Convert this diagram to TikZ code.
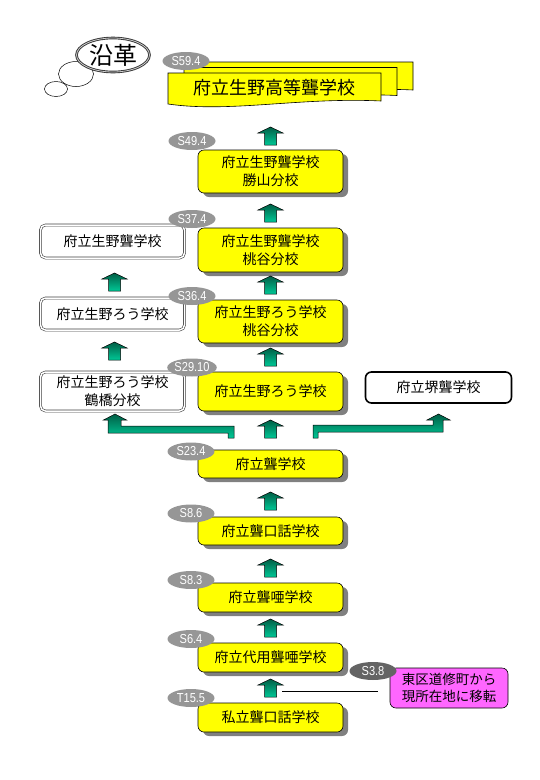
\documentclass[tikz,border=0pt]{standalone}
\usepackage{fontspec}
\setmainfont{Liberation Sans}
\newfontfamily\jpfont{Noto Sans CJK JP}
\newfontfamily\tagfont[FakeStretch=0.85]{Liberation Sans}
\usetikzlibrary{calc,shadows,shapes.geometric}
\definecolor{boxyellow}{RGB}{255,255,0}
\definecolor{taggray}{RGB}{150,150,150}
\definecolor{tagdark}{RGB}{100,100,100}
\definecolor{movepink}{RGB}{255,102,255}
\definecolor{arrtop}{RGB}{0,95,70}
\definecolor{arrbot}{RGB}{0,200,150}
\definecolor{shadowgray}{RGB}{128,128,128}
\tikzset{
  school/.style={draw,rounded corners=6pt,fill=boxyellow,minimum width=145pt,align=center,
    inner sep=2pt,line width=0.6pt,font=\jpfont\fontsize{14}{18}\selectfont,
    drop shadow={shadow xshift=5pt,shadow yshift=-4pt,fill=shadowgray,opacity=1}},
  branch/.style={draw=black!75,double,double distance=1.5pt,line width=0.6pt,rounded corners=5pt,
    fill=white,minimum width=144pt,align=center,inner sep=2pt,font=\jpfont\fontsize{14}{18}\selectfont},
  sakai/.style={draw,line width=1.6pt,rounded corners=6pt,fill=white,minimum width=146pt,
    align=center,inner sep=2pt,font=\jpfont\fontsize{14}{18}\selectfont},
  movebox/.style={draw,line width=0.6pt,rounded corners=6pt,fill=movepink,minimum width=118pt,
    align=center,inner sep=2pt,font=\jpfont\fontsize{13.5}{17}\selectfont},
  datetag/.style={ellipse,fill=taggray,text=white,minimum width=47pt,minimum height=18pt,
    inner sep=0pt,font=\tagfont\fontsize{13}{13}\selectfont},
  sheet/.style={draw,line width=0.6pt,fill=boxyellow},
  arrowfill/.style={draw=black,line width=0.5pt,top color=arrtop,bottom color=arrbot},
  uparr/.pic={\shade[arrowfill] (-6,0) -- (6,0) -- (6,-12) -- (12.5,-12) -- (0,-18)
    -- (-12.5,-12) -- (-6,-12) -- cycle;}
}
\begin{document}
\begin{tikzpicture}[x=1pt,y=-1pt]
  \useasboundingbox (0,0) rectangle (540,780);
  % title bubble
  \draw[fill=white,line width=0.5pt] (56,89) ellipse (11.5 and 7.5);
  \draw[fill=white,line width=0.5pt] (76,74) ellipse (17.5 and 12.5);
  \node[ellipse,draw=black!80,double=gray!40,double distance=0.8pt,line width=0.9pt,fill=white,
    minimum width=73pt,minimum height=34pt,inner sep=0pt,font=\jpfont\fontsize{24}{24}\selectfont]
    (title) at (113,55) {沿革};
  % high school (stacked sheets)
  \foreach \dx/\dy in {32/-11,16/-5.5,0/0}
    \filldraw[sheet,shift={(\dx,\dy)}] (168,73) -- (381,73) -- (381,101)
      .. controls (300,97) and (230,113) .. (168,104) -- cycle;
  \node[font=\jpfont\fontsize{18}{18}\selectfont] (hs) at (274,88) {府立生野高等聾学校};
  % main column
  \node[school,minimum height=43pt] (b49) at (270.5,171.5) {府立生野聾学校\\勝山分校};
  \node[school,minimum height=44pt] (b37) at (270.5,250) {府立生野聾学校\\桃谷分校};
  \node[school,minimum height=43pt] (b36) at (270.5,321.5) {府立生野ろう学校\\桃谷分校};
  \node[school,minimum height=39pt] (b29) at (270.5,391.5) {府立生野ろう学校};
  \node[school,minimum height=28pt] (b23) at (270.5,464) {府立聾学校};
  \node[school,minimum height=28pt] (b86) at (270.5,531) {府立聾口話学校};
  \node[school,minimum height=29pt] (b83) at (270.5,597.5) {府立聾唖学校};
  \node[school,minimum height=29pt] (b64) at (270.5,657.5) {府立代用聾唖学校};
  \node[school,minimum height=29pt] (t155) at (270.5,717.5) {私立聾口話学校};
  % side columns
  \node[branch,minimum height=33pt] (l37) at (112.5,241.5) {府立生野聾学校};
  \node[branch,minimum height=32pt] (l36) at (112.5,314) {府立生野ろう学校};
  \node[branch,minimum height=39pt] (l29) at (112.5,391.5) {府立生野ろう学校\\鶴橋分校};
  \node[sakai,minimum height=31pt] (r29) at (438.5,387.5) {府立堺聾学校};
  \node[movebox,minimum height=40pt] (move) at (449,688) {東区道修町から\\現所在地に移転};
  % dates
  \node[datetag] (d594) at (186,61) {S59.4};
  \node[datetag] (d494) at (192,141) {S49.4};
  \node[datetag] (d374) at (192,219) {S37.4};
  \node[datetag] (d364) at (192,296) {S36.4};
  \node[datetag] (d2910) at (192,367.5) {S29.10};
  \node[datetag] (d234) at (191,451.5) {S23.4};
  \node[datetag] (d86) at (191,513.5) {S8.6};
  \node[datetag] (d83) at (191,580) {S8.3};
  \node[datetag] (d64) at (191,639) {S6.4};
  \node[datetag] (d155) at (191,698) {T15.5};
  \node[datetag,fill=tagdark] (d38) at (373,671) {S3.8};
  % block arrows
  \foreach \y in {145,222,294,366,438,510,577,637,697}
    \pic at (270.5,\y) {uparr};
  \foreach \y in {291,360}
    \pic at (114.5,\y) {uparr};
  \shade[arrowfill] (228,438) -- (234,438) -- (234,426) -- (121,426) -- (121,420) -- (126.5,420)
    -- (115,414) -- (103.5,420) -- (108,420) -- (108,433) -- (228,433) -- cycle;
  \shade[arrowfill] (313,438) -- (318,438) -- (318,432) -- (443,432) -- (443,420) -- (450,420)
    -- (438.5,414) -- (427,420) -- (433,420) -- (433,425) -- (313,425) -- cycle;
  % relocation note
  \coordinate (mv) at (282,691);
  \draw[line width=0.6pt,shorten >=12pt] (mv) -- (mv -| move.west);
\end{tikzpicture}
\end{document}
